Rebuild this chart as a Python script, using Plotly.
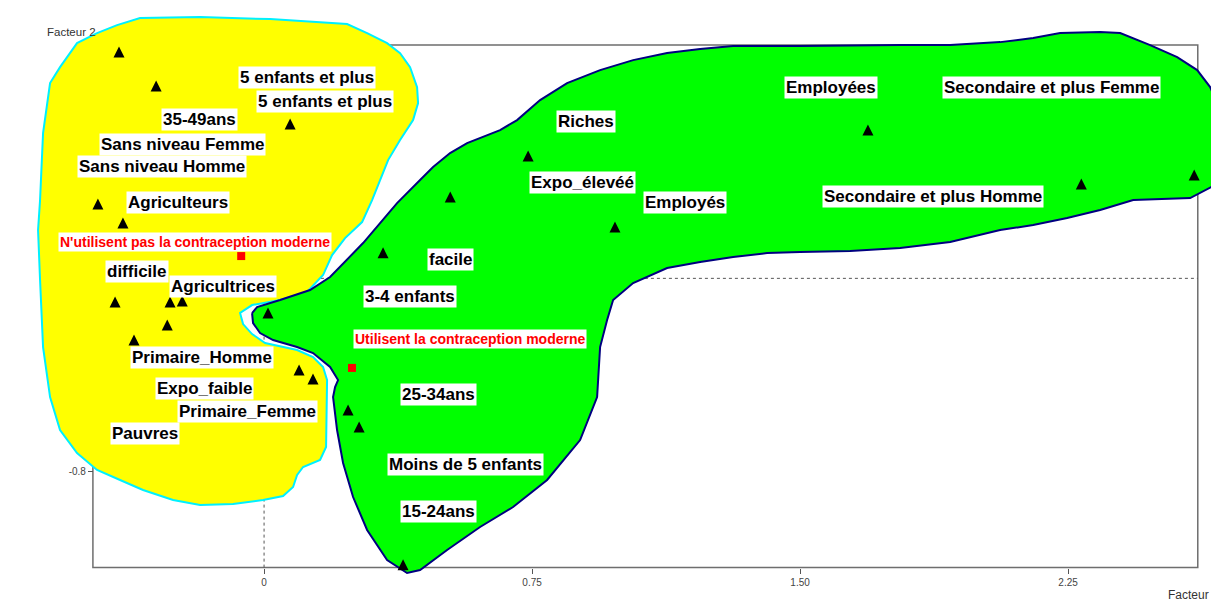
import plotly.graph_objects as go

# ---- axis extents (data units) ----
x_frame = [-0.479, 2.613]
y_frame = [-1.195, 0.964]
x_view = [-0.739, 2.650]
y_view = [-1.333, 1.150]
x_tickvals = [0, 0.75, 1.5, 2.25]
x_ticktext = ["0", "0.75", "1.50", "2.25"]
y_tickvals = [-0.8]
y_ticktext = ["-0.8"]

# ---- category points (triangles) ----
pt_x = [-0.406, -0.302, 0.073, -0.465, -0.395, -0.417, -0.263, -0.229, -0.271, -0.364,
        0.098, 0.137, 0.011, 0.333, 0.521, 0.739, 0.982, 1.690, 2.287, 2.603,
        0.235, 0.266, 0.389]
pt_y = [0.958, 0.817, 0.660, 0.330, 0.251, -0.075, -0.075, -0.071, -0.170, -0.232,
        -0.356, -0.393, -0.120, 0.128, 0.359, 0.528, 0.235, 0.636, 0.413, 0.450,
        -0.521, -0.591, -1.161]

# ---- class centres (red squares) ----
centre_x = [-0.064, 0.246]
centre_y = [0.092, -0.370]
centre_labels = ["N'utilisent pas la contraception moderne", "Utilisent la contraception moderne"]
centre_label_x = [-0.193, 0.577]
centre_label_y = [0.150, -0.251]

# ---- category labels ----
label_text = ["5 enfants et plus", "5 enfants et plus", "35-49ans", "Sans niveau Femme",
              "Sans niveau Homme", "Agriculteurs", "difficile", "Agricultrices",
              "Primaire_Homme", "Expo_faible", "Primaire_Femme", "Pauvres",
              "facile", "3-4 enfants", "25-34ans", "Moins de 5 enfants", "15-24ans",
              "Riches", "Expo_élevéé", "Employés", "Employées",
              "Secondaire et plus Femme", "Secondaire et plus Homme"]
label_x = [0.120, 0.171, -0.182, -0.227, -0.285, -0.241, -0.355, -0.115,
           -0.174, -0.168, -0.045, -0.333,
           0.523, 0.409, 0.487, 0.563, 0.487,
           0.901, 0.890, 1.178, 1.587, 2.205, 1.872]
label_y = [0.831, 0.732, 0.658, 0.555, 0.464, 0.315, 0.030, -0.032,
           -0.329, -0.457, -0.552, -0.643,
           0.076, -0.077, -0.478, -0.767, -0.965,
           0.650, 0.398, 0.315, 0.790, 0.790, 0.340]

# ---- class regions (outlines, data units) ----
yellow_x = [-0.4674, -0.4114, -0.3471, -0.1791, 0.0168, 0.2323, 0.2883, 0.3443, 0.3806, 0.4086,
            0.4282, 0.4310, 0.4170, 0.3806, 0.3471, 0.3247, 0.3023, 0.2743, 0.2267, 0.1903,
            0.1651, 0.1203, 0.0448, -0.0336, -0.0672, -0.0588, -0.0336, 0.0028, 0.0924, 0.1371,
            0.1651, 0.1763, 0.1735, 0.1567, 0.1092, 0.0924, 0.0812, 0.0532, -0.0028, -0.0868,
            -0.1791, -0.2547, -0.3387, -0.4030, -0.4674, -0.5234, -0.5710, -0.5989, -0.6185, -0.6269,
            -0.6325, -0.6269, -0.6185, -0.5989, -0.5710, -0.5234, -0.4674]
yellow_y = [1.0132, 1.0463, 1.0752, 1.0793, 1.0711, 1.0504, 1.0132, 0.9719, 0.9306, 0.8728,
            0.7902, 0.7241, 0.6539, 0.5713, 0.4886, 0.4060, 0.3234, 0.2325, 0.1665, 0.0962,
            0.0136, -0.0566, -0.0896, -0.1103, -0.1433, -0.1888, -0.2301, -0.2672, -0.2962, -0.3251,
            -0.3664, -0.4201, -0.6968, -0.7505, -0.7794, -0.8125, -0.8620, -0.8992, -0.9157, -0.9323,
            -0.9364, -0.9157, -0.8744, -0.8331, -0.7918, -0.7216, -0.6266, -0.4903, -0.2838, -0.0070,
            0.1995, 0.3234, 0.6002, 0.8067, 0.8728, 0.9719, 1.0132]

green_x = [-0.0336, -0.0196, 0.0448, 0.1287, 0.1847, 0.2323, 0.2771, 0.3247, 0.3722, 0.4366,
           0.4730, 0.5206, 0.5682, 0.6605, 0.7081, 0.7725, 0.8480, 0.9404, 1.0328, 1.1279,
           1.2203, 1.3126, 1.5002, 1.7800, 1.9200, 2.0599, 2.1523, 2.2278, 2.3398, 2.3958,
           2.4797, 2.5553, 2.6113, 2.6477, 2.6757, 2.6868, 2.6757, 2.6505, 2.6197, 2.5917,
           2.4322, 2.3398, 2.2474, 2.1523, 2.0599, 1.9200, 1.7800, 1.6401, 1.5002, 1.4078,
           1.3126, 1.2203, 1.1279, 1.0328, 0.9768, 0.9600, 0.9404, 0.9320, 0.8844, 0.7921,
           0.6969, 0.6045, 0.5122, 0.4366, 0.4002, 0.3443, 0.2883, 0.2491, 0.2211, 0.2043,
           0.1931, 0.1987, 0.2071, 0.1847, 0.1371, 0.0924, 0.0252, -0.0112, -0.0308, -0.0336]
green_y = [-0.1433, -0.1185, -0.0896, -0.0483, 0.0054, 0.0756, 0.1458, 0.2284, 0.3110, 0.4060,
           0.4597, 0.5176, 0.5589, 0.6126, 0.6539, 0.7365, 0.8067, 0.8604, 0.9017, 0.9306,
           0.9471, 0.9595, 0.9595, 0.9637, 0.9637, 0.9760, 0.9926, 1.0132, 1.0173, 1.0132,
           0.9637, 0.9141, 0.8604, 0.7902, 0.6952, 0.5713, 0.4267, 0.3771, 0.3523, 0.3317,
           0.3234, 0.2821, 0.2491, 0.2202, 0.1995, 0.1499, 0.1252, 0.1128, 0.1086, 0.1045,
           0.0880, 0.0673, 0.0425, -0.0194, -0.0896, -0.1722, -0.2838, -0.4903, -0.6679, -0.8331,
           -0.9447, -1.0273, -1.1223, -1.2049, -1.2173, -1.1636, -1.0397, -0.9034, -0.7629, -0.6266,
           -0.4903, -0.4490, -0.4201, -0.3664, -0.3086, -0.2838, -0.2549, -0.2259, -0.1846, -0.1433]

FONT = "Liberation Sans, Arial, sans-serif"

fig = go.Figure()

fig.add_trace(go.Scatter(x=yellow_x, y=yellow_y, mode="lines", fill="toself",
                         fillcolor="#FFFF00", line=dict(color="#00F0FF", width=2),
                         hoverinfo="skip", showlegend=False))
fig.add_trace(go.Scatter(x=green_x, y=green_y, mode="lines", fill="toself",
                         fillcolor="#00FF00", line=dict(color="#000080", width=2),
                         hoverinfo="skip", showlegend=False))
fig.add_trace(go.Scatter(x=pt_x, y=pt_y, mode="markers",
                         marker=dict(symbol="arrow-up", size=11, color="black",
                                     line=dict(width=0)),
                         showlegend=False))
fig.add_trace(go.Scatter(x=centre_x, y=centre_y, mode="markers",
                         marker=dict(symbol="square", size=8, color="#FF0000",
                                     line=dict(width=0)),
                         showlegend=False))

annotations = []
for t, x, y in zip(label_text, label_x, label_y):
    annotations.append(dict(x=x, y=y, xref="x", yref="y", text=t, showarrow=False,
                            xanchor="center", yanchor="middle",
                            font=dict(family=FONT, size=17, color="black", weight="bold"),
                            bgcolor="white", borderpad=1))
for t, x, y in zip(centre_labels, centre_label_x, centre_label_y):
    annotations.append(dict(x=x, y=y, xref="x", yref="y", text=t, showarrow=False,
                            xanchor="center", yanchor="middle",
                            font=dict(family=FONT, size=14, color="#FF0000", weight="bold"),
                            bgcolor="white", borderpad=1))
annotations.append(dict(x=71 / 1211, y=1 - 32 / 601, xref="paper", yref="paper",
                        text="Facteur 2", showarrow=False, xanchor="center", yanchor="middle",
                        font=dict(family=FONT, size=11.5, color="#333333")))
annotations.append(dict(x=1188 / 1211, y=1 - 595 / 601, xref="paper", yref="paper",
                        text="Facteur", showarrow=False, xanchor="center", yanchor="middle",
                        font=dict(family=FONT, size=12, color="#333333")))

shapes = [
    dict(type="rect", xref="x", yref="y", x0=x_frame[0], x1=x_frame[1],
         y0=y_frame[0], y1=y_frame[1], line=dict(color="#6e6e6e", width=1.5), layer="below"),
    dict(type="line", xref="x", yref="y", x0=0, x1=0, y0=y_frame[0], y1=y_frame[1],
         line=dict(color="#555555", width=1, dash="dot"), layer="below"),
    dict(type="line", xref="x", yref="y", x0=x_frame[0], x1=x_frame[1], y0=0, y1=0,
         line=dict(color="#555555", width=1, dash="dot"), layer="below"),
]

x_axis_pos = (y_frame[0] - y_view[0]) / (y_view[1] - y_view[0])
y_axis_pos = (x_frame[0] - x_view[0]) / (x_view[1] - x_view[0])

fig.update_layout(
    width=1211, height=601,
    margin=dict(l=0, r=0, t=0, b=0),
    paper_bgcolor="white", plot_bgcolor="white",
    showlegend=False,
    annotations=annotations,
    shapes=shapes,
    xaxis=dict(range=x_view, domain=[0, 1], anchor="free", position=x_axis_pos,
               showgrid=False, zeroline=False, showline=False,
               tickmode="array", tickvals=x_tickvals, ticktext=x_ticktext,
               ticks="outside", ticklen=5, tickwidth=1, tickcolor="#555555",
               tickfont=dict(family=FONT, size=10, color="#444444"),
               layer="below traces", fixedrange=True),
    yaxis=dict(range=y_view, domain=[0, 1], anchor="free", position=y_axis_pos,
               showgrid=False, zeroline=False, showline=False,
               tickmode="array", tickvals=y_tickvals, ticktext=y_ticktext,
               ticks="outside", ticklen=5, tickwidth=1, tickcolor="#555555",
               tickfont=dict(family=FONT, size=10, color="#444444"),
               layer="below traces", fixedrange=True),
)

fig.write_html("out.html")
